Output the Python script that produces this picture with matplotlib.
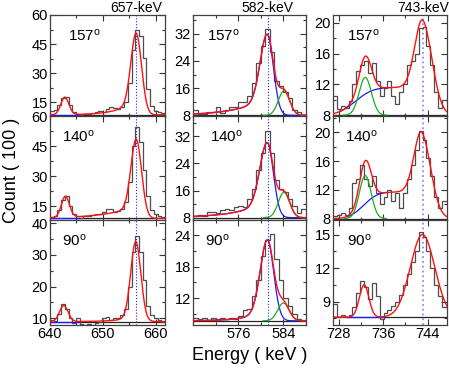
import math
import numpy as np
import matplotlib
matplotlib.use('Agg')
import matplotlib.pyplot as plt
from matplotlib.ticker import AutoMinorLocator, FixedLocator
from matplotlib.transforms import blended_transform_factory

plt.rcParams['font.family'] = ['Liberation Sans', 'DejaVu Sans']
plt.rcParams['mathtext.fontset'] = 'custom'
plt.rcParams['mathtext.rm'] = 'Liberation Sans'
plt.rcParams['mathtext.it'] = 'Liberation Sans'

# ---------------- data ----------------
angles = ['157', '140', '90']
peak_labels = ['657-keV', '582-keV', '743-keV']
peak_lines = [656.3, 581.2, 743.2]
x_limits = [(640, 661.7), (568, 588), (727, 747.5)]
x_ticks = [[640, 650, 660], [576, 584], [728, 736, 744]]
bin_start = [640.0, 568.0, 727.0]
bin_width = [0.7, 0.8, 0.7]

y_limits = [[(7.9, 60), (8.2, 60), (7.9, 41)],
            [(7.8, 37.5), (7.3, 38), (6.9, 26.9)],
            [(7.9, 21), (7.8, 22.3), (6.9, 16.3)]]
y_ticks = [[[15, 30, 45, 60], [15, 30, 45, 60], [10, 20, 30, 40]],
           [[8, 16, 24, 32], [8, 16, 24, 32], [12, 18, 24]],
           [[8, 12, 16, 20], [8, 12, 16, 20], [9, 12, 15]]]

counts_657_157 = [10.5, 11, 13.5, 17, 17.5, 13.5, 10, 9, 8.6, 9, 8.8, 9.5, 10, 10.5, 10,
                  11.5, 12.5, 12, 11.5, 12.5, 15, 25, 42, 52.5, 49, 38, 22, 13, 10.5, 10, 9.5]
counts_657_140 = [9.5, 10, 13, 18, 20.3, 15, 11, 9, 9.2, 10, 10.2, 10.5, 11, 11.2, 12,
                  13.8, 13.5, 12.2, 12.8, 13.5, 17, 27, 45, 54.5, 47, 33, 20, 13, 11, 10, 9.5]
counts_657_90 = [9.5, 9.2, 11.5, 14.5, 13, 10, 8.5, 10.2, 8.2, 8, 8.2, 8, 8.5, 9, 10,
                 10.5, 9.5, 10.2, 10, 11, 13, 20, 31, 36, 31, 22, 14, 11, 10, 9.5, 9]

counts_582_157 = [9.5, 8.5, 8.5, 9.0, 9.0, 10.3, 8.6, 9.5, 10.5, 10.5, 11.8, 12.0, 13.8,
                  17.5, 23.5, 28.5, 33.5, 26.5, 18.0, 16.5, 15.0, 13.0, 9.5, 9.0, 8.2]
counts_582_140 = [8.5, 8.8, 8.5, 9.8, 9.8, 9.5, 10.2, 10.5, 10.2, 11.0, 11.5, 11.2, 13.5,
                  16.5, 22, 27, 33.5, 27, 19, 16.5, 15.5, 13.5, 11.5, 9.5, 10.5]
counts_582_90 = [8.3, 8.0, 8.3, 7.9, 8.3, 8.0, 8.3, 8.0, 8.2, 8.0, 8.6, 9.7, 10.0,
                 12.5, 15.5, 20, 23, 24.2, 19.5, 15.5, 12.0, 10.5, 9.0, 8.0, 7.9]

counts_743_157 = [10.5, 8.8, 9.2, 9.0, 9.8, 12.0, 13.8, 14.5, 15.0, 13.5, 14.8, 12.5, 10.5,
                  11.5, 12.5, 10.5, 9.5, 11.0, 12.0, 14.5, 15.0, 16.0, 19.3, 19.5, 17.0,
                  14.5, 11.0, 9.0, 10.0, 10.0]
counts_743_140 = [8.3, 8.5, 8.8, 8.5, 9.5, 13.0, 13.5, 15.5, 13.5, 12.5, 14.0, 11.5, 10.0,
                  11.0, 12.0, 10.5, 11.5, 9.5, 11.5, 13.5, 15.5, 17.5, 20.2, 19.0, 16.5,
                  14.0, 11.0, 9.5, 10.5, 10.5]
counts_743_90 = [8.8, 7.6, 7.8, 7.6, 7.8, 8.5, 9.8, 10.8, 10.3, 9.2, 10.7, 9.5, 7.4,
                 8.0, 8.2, 8.6, 9.0, 9.6, 10.5, 11.5, 12.5, 13.5, 15.2, 14.8, 13.5,
                 12.0, 10.5, 9.5, 8.5, 8.5]

# fit parameters
# ('g', amp, centroid, sigma_low, sigma_high); ('t', amp, centroid, sigma, tau);
# ('p', amp, rise_centre, rise_width, fall_centre, fall_width)
fit_657_157 = dict(base=8.5, blue=[], blue_range=(640, 645.5), green=[],
                   extra=[('g', 9.0, 642.8, 0.75, 0.75), ('g', 39.0, 656.3, 1.0, 1.0),
                          ('t', 8.4, 656.3, 1.0, 3.1)])
fit_657_140 = dict(base=9.0, blue=[], blue_range=(640, 645.5), green=[],
                   extra=[('g', 10.5, 642.9, 0.75, 0.75), ('g', 36.7, 656.3, 1.0, 1.0),
                          ('t', 6.3, 656.3, 1.0, 5.6)])
fit_657_90 = dict(base=9.0, blue=[], blue_range=(640, 645.5), green=[],
                  extra=[('g', 5.0, 642.6, 0.8, 0.8), ('g', 24.5, 656.2, 0.95, 0.95),
                         ('t', 2.0, 656.2, 0.95, 2.5)])

fit_582_157 = dict(base=8.0, blue=[('g', 21.5, 581.2, 1.25, 1.05), ('t', 5.5, 581.2, 1.2, 5.0)],
                   blue_range=None, green=[('g', 7.2, 584.1, 1.0, 1.0)], extra=[])
fit_582_140 = dict(base=8.0, blue=[('g', 20.0, 581.2, 1.3, 1.05), ('t', 5.0, 581.2, 1.2, 5.0)],
                   blue_range=None, green=[('g', 7.5, 584.1, 1.0, 1.0)], extra=[])
fit_582_90 = dict(base=7.7, blue=[('g', 14.5, 581.2, 1.25, 1.1), ('t', 2.5, 581.2, 1.2, 3.0)],
                  blue_range=None, green=[('g', 3.4, 584.0, 1.0, 1.0)], extra=[])

fit_743_157 = dict(base=8.0, blue=[('p', 3.6, 731.0, 2.5, 743.2, 1.5)], blue_range=(728.3, 737.0),
                   green=[('g', 4.9, 732.8, 1.1, 1.1)],
                   extra=[('g', 10.5, 743.2, 1.4, 1.7)])
fit_743_140 = dict(base=8.0, blue=[('p', 3.7, 732.5, 2.0, 743.0, 1.5)], blue_range=(729.5, 736.8),
                   green=[('g', 6.0, 732.8, 1.05, 1.05)],
                   extra=[('g', 10.15, 743.0, 1.35, 1.65)])
fit_743_90 = dict(base=7.6, blue=[], blue_range=(729.5, 736.3), green=[],
                  extra=[('g', 2.9, 732.6, 0.85, 0.85), ('g', 7.4, 743.1, 2.2, 2.2)])

counts = [[counts_657_157, counts_657_140, counts_657_90],
          [counts_582_157, counts_582_140, counts_582_90],
          [counts_743_157, counts_743_140, counts_743_90]]
fits = [[fit_657_157, fit_657_140, fit_657_90],
        [fit_582_157, fit_582_140, fit_582_90],
        [fit_743_157, fit_743_140, fit_743_90]]

# ---------------- model helpers ----------------
erfc = np.vectorize(math.erfc)
SQ2 = math.sqrt(2.0)


def component(x, c):
    kind = c[0]
    if kind == 'g':
        _, A, mu, sl, sr = c
        s = np.where(x < mu, sl, sr)
        return A * np.exp(-0.5 * ((x - mu) / s) ** 2)
    if kind == 't':
        _, A, mu, s, tau = c
        return A * np.exp((x - mu) / tau) * 0.5 * erfc((x - mu) / (SQ2 * s) + s / (SQ2 * tau))
    if kind == 'p':
        _, A, c1, w1, c2, w2 = c
        return A * 0.5 * erfc(-(x - c1) / (SQ2 * w1)) * 0.5 * erfc((x - c2) / (SQ2 * w2))
    return 0 * x


def total(x, comps):
    y = np.zeros_like(x)
    for c in comps:
        y = y + component(x, c)
    return y


# ---------------- layout ----------------
W, H = 449, 370
fig = plt.figure(figsize=(W / 100, H / 100), dpi=100)
col_px = [(50, 165), (193, 306), (333, 447)]
row_px = [(15, 116), (116, 220), (220, 325)]

label_x = [[0.16, 0.10, 0.10], [0.12, 0.15, 0.11], [0.12, 0.105, 0.12]]

for ci in range(3):
    for ri in range(3):
        x0, x1 = col_px[ci]
        y0, y1 = row_px[ri]
        ax = fig.add_axes([x0 / W, 1 - y1 / H, (x1 - x0) / W, (y1 - y0) / H])
        fit = fits[ci][ri]
        base = fit['base']
        xlo, xhi = x_limits[ci]
        x = np.linspace(xlo, xhi, 800)

        # baseline
        ax.axhline(base, color='0.15', lw=0.9, zorder=1.5)

        # histogram
        cnt = counts[ci][ri]
        edges = bin_start[ci] + bin_width[ci] * np.arange(len(cnt) + 1)
        ax.stairs(cnt, edges, baseline=None, color='0.3', lw=0.9, zorder=2)

        # components
        if fit['blue_range'] is not None:
            xb = np.linspace(fit['blue_range'][0], fit['blue_range'][1], 300)
        else:
            xb = x
        ax.plot(xb, base + total(xb, fit['blue']), color='#1a1aff', lw=0.9, zorder=3)
        for g in fit['green']:
            mu, s = g[2], max(g[3], g[4])
            xg = np.linspace(mu - 3.6 * s, mu + 3.6 * s, 200)
            ax.plot(xg, base + component(xg, g), color='#1faa1f', lw=0.9, zorder=3)

        red = base + total(x, fit['blue']) + total(x, fit['green']) + total(x, fit['extra'])
        ax.plot(x, red, color='#ff1010', lw=1.0, zorder=4)

        # dotted reference line
        if ci == 2:
            ax.axvline(peak_lines[ci], color='#8c8cff', lw=1.3, ls=':', zorder=1)
        else:
            ax.axvline(peak_lines[ci], color='#2020ff', lw=0.8, ls=':', zorder=5)

        ax.set_xlim(xlo, xhi)
        ax.set_ylim(*y_limits[ci][ri])
        ax.xaxis.set_major_locator(FixedLocator(x_ticks[ci]))
        ax.yaxis.set_major_locator(FixedLocator(y_ticks[ci][ri]))
        ax.xaxis.set_minor_locator(AutoMinorLocator(2))
        ax.yaxis.set_minor_locator(AutoMinorLocator(2))
        ax.tick_params(which='both', direction='in', top=True, right=True,
                       width=0.8, color='0.2')
        ax.tick_params(which='major', length=4, labelsize=10.5, pad=1.5)
        ax.tick_params(which='minor', length=2)
        if ri < 2:
            ax.tick_params(labelbottom=False)
        for sp in ax.spines.values():
            sp.set_linewidth(0.9)
            sp.set_color('0.25')

        ax.text(label_x[ci][ri], 0.80, angles[ri] + r'$^{\rm o}$', transform=ax.transAxes,
                ha='left', va='center', fontsize=11)

        if ri == 0:
            tr = blended_transform_factory(ax.transData, ax.transAxes)
            ax.text(peak_lines[ci], 1.0, peak_labels[ci], transform=tr,
                    ha='center', va='bottom', fontsize=10)

fig.text(0.025, 0.54, 'Count ( 100 )', rotation=90, ha='center', va='center', fontsize=13)
fig.text(0.555, 0.038, 'Energy ( keV )', ha='center', va='center', fontsize=13)

fig.savefig('out.png', dpi=100)
